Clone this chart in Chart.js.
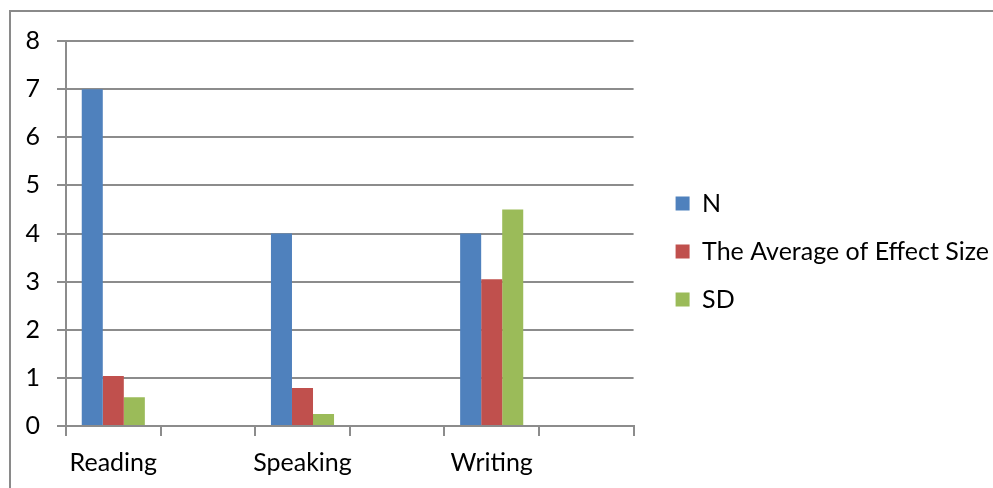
<!DOCTYPE html>
<html>
<head>
<meta charset="utf-8">
<script src="https://cdn.jsdelivr.net/npm/chart.js@4"></script>
<style>
  html, body { margin: 0; padding: 0; background: #fff; }
  #wrap { position: absolute; left: 0; top: 0; width: 993px; height: 488px; }
  #frame { position: absolute; left: 9px; top: 10px; width: 990px; height: 490px;
           border-top: 2px solid #8a8a8a; border-left: 2px solid #8a8a8a; pointer-events: none; }
</style>
</head>
<body>
<div id="wrap"><canvas id="c"></canvas></div>
<div id="frame"></div>
<script>
const categories = ['Reading', '', 'Speaking', '', 'Writing', ''];
const seriesN = [7, null, 4, null, 4, null];
const seriesAvgEffect = [1.04, null, 0.79, null, 3.05, null];
const seriesSD = [0.6, null, 0.25, null, 4.5, null];
const yTicks = [0, 1, 2, 3, 4, 5, 6, 7, 8];

const FONT = { family: 'Lato', size: 25 };
const GRID = '#8c8c8c';

// nudges the legend block to sit where the reference has it
const legendNudge = {
  id: 'legendNudge',
  afterLayout(chart) {
    const lg = chart.legend;
    if (!lg) return;
    const dx = 19, dy = -8;
    lg.left += dx; lg.right += dx;
    lg.top += dy; lg.bottom += dy;
  }
};

new Chart(document.getElementById('c'), {
  type: 'bar',
  data: {
    labels: categories,
    datasets: [
      { label: 'N', data: seriesN, backgroundColor: '#4F81BD' },
      { label: 'The Average of Effect Size', data: seriesAvgEffect, backgroundColor: '#C0504D' },
      { label: 'SD', data: seriesSD, backgroundColor: '#9BBB59' }
    ]
  },
  plugins: [legendNudge],
  options: {
    responsive: true,
    maintainAspectRatio: false,
    animation: false,
    devicePixelRatio: 1,
    layout: { padding: { left: 10, top: 41, right: 13, bottom: 10 } },
    datasets: { bar: { categoryPercentage: 0.667, barPercentage: 1.0, borderWidth: 0 } },
    plugins: {
      legend: {
        position: 'right',
        maxWidth: 600,
        labels: { font: FONT, color: '#000', boxWidth: 14, boxHeight: 14, padding: 23 }
      },
      tooltip: { enabled: false }
    },
    scales: {
      x: {
        grid: { offset: true, drawOnChartArea: false, color: GRID, lineWidth: 2, tickLength: 10 },
        border: { color: GRID, width: 2 },
        ticks: { font: FONT, color: '#000', padding: 12, maxRotation: 0, autoSkip: false },
        afterFit: s => { s.height = 52; }
      },
      y: {
        min: 0, max: 8,
        afterBuildTicks: s => { s.ticks = yTicks.map(v => ({ value: v })); },
        grid: { color: GRID, lineWidth: 2, tickLength: 9 },
        border: { color: GRID, width: 2 },
        ticks: { font: FONT, color: '#000', padding: 17 },
        afterFit: s => { s.width = 56; }
      }
    }
  }
});
</script>
</body>
</html>
